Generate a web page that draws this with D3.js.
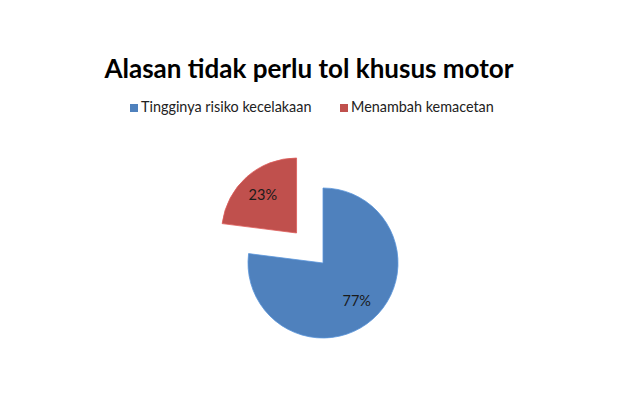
<!DOCTYPE html>
<html lang="id">
<head>
<meta charset="UTF-8">
<title>Alasan tidak perlu tol khusus motor</title>
<script src="https://cdn.jsdelivr.net/npm/d3@7"></script>
<style>
  body { margin: 0; background: #fff; }
  text { font-family: Lato, "Open Sans", sans-serif; }
</style>
</head>
<body>
<div id="vis"></div>
<script>
var width = 620;
var height = 413;

// data
var categories = ["Tingginya risiko kecelakaan", "Menambah kemacetan"];
var values = [77, 23];
var colors = ["#4F81BD", "#C0504D"];
var explode = [0, 40];

var svg = d3.select("#vis").append("svg")
    .attr("width", width)
    .attr("height", height);

// title
svg.append("text")
    .attr("x", 309)
    .attr("y", 78)
    .attr("text-anchor", "middle")
    .attr("font-size", 26)
    .attr("font-weight", "bold")
    .attr("fill", "#000")
    .text("Alasan tidak perlu tol khusus motor");

// legend
var legendX = [130, 340];
var legend = svg.append("g");
categories.forEach(function(c, i) {
  legend.append("rect")
      .attr("x", legendX[i])
      .attr("y", 104)
      .attr("width", 8)
      .attr("height", 8)
      .attr("fill", colors[i]);
  legend.append("text")
      .attr("x", legendX[i] + 11)
      .attr("y", 112)
      .attr("font-size", 14.4)
      .attr("fill", "#222")
      .text(c);
});

// pie
var cx = 323, cy = 263, r = 75;
var pie = d3.pie().sort(null).value(function(d) { return d; });
var arcs = pie(values);
var arc = d3.arc().innerRadius(0).outerRadius(r);
var labelArc = d3.arc().innerRadius(r * 0.68).outerRadius(r * 0.68);

var g = svg.append("g").attr("transform", "translate(" + cx + "," + cy + ")");

var slice = g.selectAll("g.slice")
    .data(arcs)
    .enter().append("g")
    .attr("class", "slice")
    .attr("transform", function(d, i) {
      var a = (d.startAngle + d.endAngle) / 2;
      return "translate(" + (Math.sin(a) * explode[i]) + "," + (-Math.cos(a) * explode[i]) + ")";
    });

slice.append("path")
    .attr("d", arc)
    .attr("fill", function(d, i) { return colors[i]; })
    .attr("stroke", function(d, i) { return d3.color(colors[i]).brighter(0.4); })
    .attr("stroke-width", 0.8);

slice.append("text")
    .attr("transform", function(d) { return "translate(" + labelArc.centroid(d) + ")"; })
    .attr("dy", "0.35em")
    .attr("text-anchor", "middle")
    .attr("font-size", 14.5)
    .attr("fill", "#1a1a1a")
    .text(function(d) { return d.data + "%"; });
</script>
</body>
</html>
